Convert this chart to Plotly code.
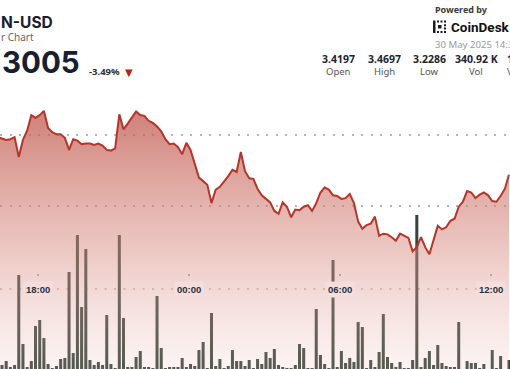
import pandas as pd
import plotly.graph_objects as go

# ---------------- data ----------------
price_start = "2025-05-29 16:23"
prices = [3.397,
    3.395, 3.393, 3.394, 3.397, 3.369, 3.393, 3.406, 3.428, 3.424, 3.428,
    3.434, 3.410, 3.404, 3.401, 3.401, 3.396, 3.379, 3.394, 3.392, 3.387,
    3.388, 3.388, 3.386, 3.388, 3.385, 3.379, 3.378, 3.381, 3.429, 3.408,
    3.416, 3.425, 3.433, 3.428, 3.427, 3.420, 3.417, 3.412, 3.405, 3.394,
    3.387, 3.388, 3.383, 3.373, 3.389, 3.379, 3.359, 3.340, 3.335, 3.330,
    3.304, 3.323, 3.327, 3.334, 3.342, 3.351, 3.348, 3.376, 3.349, 3.339,
    3.338, 3.324, 3.315, 3.310, 3.305, 3.293, 3.289, 3.305, 3.299, 3.284,
    3.295, 3.294, 3.299, 3.301, 3.293, 3.304, 3.319, 3.326, 3.323, 3.315,
    3.314, 3.310, 3.311, 3.317, 3.304, 3.278, 3.268, 3.273, 3.275, 3.285,
    3.258, 3.261, 3.260, 3.256, 3.251, 3.261, 3.258, 3.255, 3.236, 3.242,
    3.256, 3.242, 3.232, 3.252, 3.272, 3.267, 3.270, 3.279, 3.282, 3.299,
    3.306, 3.321, 3.319, 3.311, 3.316, 3.319, 3.315, 3.307, 3.306, 3.314,
    3.324, 3.344]

volume_start = "2025-05-29 16:33"
volumes_k = [
    0.6, 1.0, 0.4, 0.6, 9.6, 2.7, 0.4, 1.0, 4.5, 5.1,
    3.3, 0.7, 0.3, 0.5, 1.2, 1.3, 9.9, 1.8, 13.6, 6.4,
    12.2, 1.1, 0.6, 0.9, 0.6, 5.6, 0.7, 0.3, 13.6, 5.3,
    0.4, 0.4, 1.4, 2.0, 0.4, 0.4, 0.3, 7.5, 2.3, 0.3,
    0.4, 0.4, 0.4, 1.3, 0.4, 0.7, 0.5, 2.1, 2.9, 0.3,
    5.8, 0.5, 1.2, 0.3, 0.5, 2.1, 1.0, 1.0, 0.5, 1.1,
    0.3, 1.2, 0.7, 1.9, 1.3, 2.2, 0.6, 0.4, 0.3, 0.3,
    0.6, 2.7, 2.3, 0.3, 0.3, 6.2, 1.6, 0.7, 0.3, 11.1,
    0.4, 2.0, 0.8, 1.3, 0.9, 4.9, 4.4, 0.3, 1.1, 0.4,
    1.9, 5.7, 1.4, 0.8, 0.4, 0.9, 0.3, 0.3, 1.1, 15.6,
    0.4, 1.3, 2.0, 0.6, 2.6, 0.8, 0.5, 0.4, 0.4, 4.9,
    0.2, 1.0, 0.8, 0.8, 0.3, 0.7, 0.2, 2.1, 0.3, 1.5,
    0.2, 1.1]

tick_times = ["2025-05-29 18:00", "2025-05-30 00:00", "2025-05-30 06:00", "2025-05-30 12:00"]
tick_labels = ["18:00", "00:00", "06:00", "12:00"]

stat_values = ["3.4197", "3.4697", "3.2286", "340.92 K", "1"]
stat_labels = ["Open", "High", "Low", "Vol", "V"]

price_times = pd.date_range(price_start, periods=len(prices), freq="10min")
volume_times = pd.date_range(volume_start, periods=len(volumes_k), freq="10min")

# ---------------- figure ----------------
W, H = 510, 369
def px(x):
    return x / W
def py(y):
    return 1 - y / H

fig = go.Figure()

fig.add_trace(go.Bar(
    x=volume_times, y=volumes_k, yaxis="y",
    marker=dict(color="rgb(54,68,59)", line=dict(width=0)),
    hoverinfo="skip", showlegend=False,
))

fig.add_trace(go.Scatter(
    x=price_times, y=prices, yaxis="y2", mode="lines",
    line=dict(color="rgb(183,52,40)", width=2),
    fill="tozeroy",
    fillgradient=dict(
        type="vertical", start=3.0704, stop=3.44,
        colorscale=[[0, "rgba(235,190,185,0.18)"],
                    [0.45, "rgba(215,140,130,0.48)"],
                    [1, "rgba(192,88,78,0.78)"]],
    ),
    hoverinfo="skip", showlegend=False,
))

GRID_DASH = "2px,7.5px"

fig.update_layout(
    width=W, height=H,
    margin=dict(l=0, r=0, t=0, b=0),
    paper_bgcolor="white", plot_bgcolor="white",
    bargap=0.28,
    hovermode=False,
    xaxis=dict(
        type="date",
        range=["2025-05-29 16:28:14", "2025-05-30 12:45:24"],
        tickvals=tick_times, ticktext=["", "", "", ""],
        showticklabels=False,
        ticks="outside", ticklen=2, tickwidth=2, tickcolor="#a8a8a8",
        anchor="free", position=py(273),
        showgrid=False, zeroline=False, showline=False,
    ),
    yaxis=dict(
        range=[0.2, 37.1],
        showgrid=False, zeroline=False, showticklabels=False, ticks="",
    ),
    yaxis2=dict(
        range=[3.0704, 3.5901], overlaying="y",
        tickvals=[3.3, 3.4], showticklabels=False, ticks="",
        showgrid=True, gridcolor="#b5b5b5", gridwidth=1.3, griddash=GRID_DASH,
        zeroline=False,
    ),
)

# time axis dotted line
fig.add_shape(type="line", xref="paper", yref="paper", x0=0, x1=1,
              y0=py(289), y1=py(289), layer="below",
              line=dict(color="#b5b5b5", width=1.3, dash=GRID_DASH))

ann = []
for t, lab in zip(tick_times, tick_labels):
    ann.append(dict(x=t, xref="x", y=py(289), yref="paper", text=lab,
                    showarrow=False, xanchor="center", yanchor="middle",
                    bgcolor="rgb(243,222,219)", borderpad=2,
                    font=dict(family="Liberation Sans", size=9.5, color="#27303d", weight="bold")))

TXT = "#172030"
ann += [
    dict(x=px(-1), y=py(22.5), text="N-USD", xanchor="left", yanchor="middle",
         font=dict(family="Inter", size=15.5, color=TXT, weight="bold")),
    dict(x=px(-1), y=py(37.5), text="r Chart", xanchor="left", yanchor="middle",
         font=dict(family="Noto Sans", size=10, color="#666666")),
    dict(x=px(0), y=py(62), text="3005", xanchor="left", yanchor="middle",
         font=dict(family="Inter", size=29.5, color=TXT, weight="bold")),
    dict(x=px(87), y=py(72), text="-3.49%", xanchor="left", yanchor="middle",
         font=dict(family="Noto Sans", size=9.5, color="#2a2f38", weight="bold")),
    dict(x=px(128.5), y=py(72.5), text="▼", xanchor="center", yanchor="middle",
         font=dict(family="DejaVu Sans", size=10, color="#b3281b")),
    dict(x=px(432.5), y=py(9.5), text="Powered by", xanchor="left", yanchor="middle",
         font=dict(family="Noto Sans", size=9, color="#3a3a3a", weight="bold")),
    dict(x=px(448.5), y=py(27), text="CoinDesk", xanchor="left", yanchor="middle",
         font=dict(family="Roboto", size=13.5, color="#111111", weight="bold")),
    dict(x=px(432.5), y=py(44.5), text="30 May 2025 14:33", xanchor="left", yanchor="middle",
         font=dict(family="Noto Sans", size=9.6, color="#9a9a9a")),
]
stat_x = [338.7, 384, 429.7, 476]
for i, (v, l) in enumerate(zip(stat_values, stat_labels)):
    if i < 4:
        xa, xx = "center", stat_x[i]
    else:
        xa, xx = "left", 505
    ann.append(dict(x=px(xx), y=py(58.5), text=v, xanchor=xa, yanchor="middle",
                    font=dict(family="Noto Sans", size=10.5, color="#1e2430", weight="bold")))
    ann.append(dict(x=px(xx), y=py(71), text=l, xanchor=xa, yanchor="middle",
                    font=dict(family="Noto Sans", size=9.5, color="#555555")))
for a in ann:
    a.setdefault("xref", "paper")
    a.setdefault("yref", "paper")
    a.setdefault("showarrow", False)
fig.update_layout(annotations=ann)

# CoinDesk logo mark (small dotted bracket)
logo = [(433, 20.5, 435.5, 33), (437, 20.5, 439, 22.5), (440.5, 20.5, 442.5, 22.5),
        (444, 20.5, 446, 22.5), (437, 31, 439, 33), (440.5, 31, 442.5, 33),
        (444, 31, 446, 33), (444, 24.2, 446, 26.2), (444, 27.5, 446, 29.5),
        (438, 25, 441.5, 28.5)]
for x0, y0, x1, y1 in logo:
    fig.add_shape(type="rect", xref="paper", yref="paper",
                  x0=px(x0), x1=px(x1), y0=py(y1), y1=py(y0),
                  fillcolor="#1b1b1b", line=dict(width=0), layer="above")

fig.write_html("out.html", config={"displayModeBar": False, "staticPlot": True},
               post_script="document.body.style.margin='0';document.body.style.overflow='hidden';")
